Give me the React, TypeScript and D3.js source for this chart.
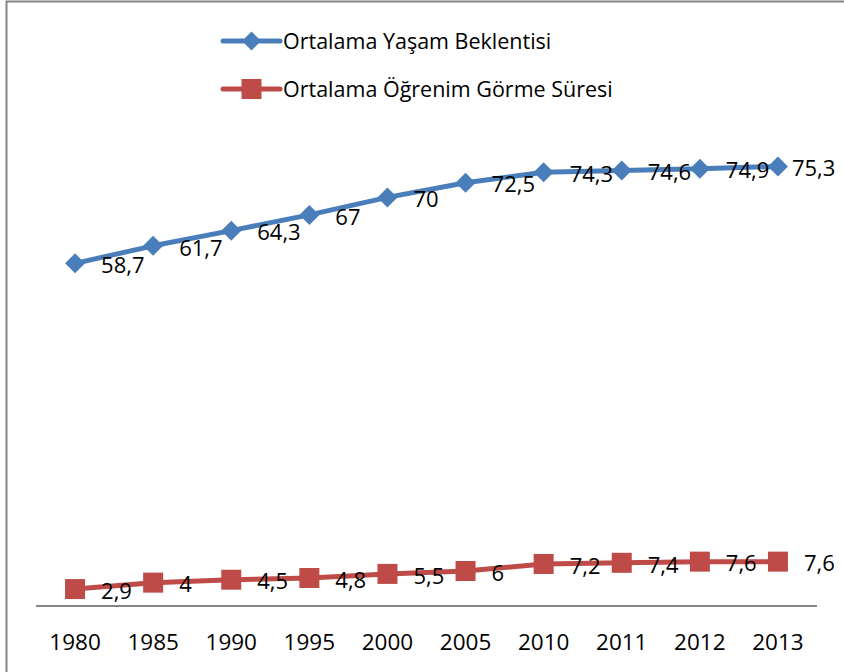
import React from "react";
import * as d3 from "d3";

const years = ["1980", "1985", "1990", "1995", "2000", "2005", "2010", "2011", "2012", "2013"];
const lifeExpectancy = [58.7, 61.7, 64.3, 67, 70, 72.5, 74.3, 74.6, 74.9, 75.3];
const schoolingYears = [2.9, 4, 4.5, 4.8, 5.5, 6, 7.2, 7.4, 7.6, 7.6];
const seriesNames = ["Ortalama Yaşam Beklentisi", "Ortalama Öğrenim Görme Süresi"];

const W = 844;
const H = 672;
const FONT = "'Open Sans', Lato, sans-serif";
const BLUE = "#4A7EBB";
const RED = "#BE4B48";

const fmt = (v: number) => String(v).replace(".", ",");

export default function App() {
  const x = d3.scaleBand<string>().domain(years).range([36, 817]);
  const y = d3.scaleLinear().domain([0, 80]).range([606, 139]);
  const cx = (d: string) => (x(d) as number) + x.bandwidth() / 2;
  const line = d3
    .line<[string, number]>()
    .x((d) => cx(d[0]))
    .y((d) => y(d[1]));

  const blue: [string, number][] = years.map((yr, i) => [yr, lifeExpectancy[i]]);
  const red: [string, number][] = years.map((yr, i) => [yr, schoolingYears[i]]);

  const diamond = (px: number, py: number, r: number) =>
    `M${px},${py - r}L${px + r},${py}L${px},${py + r}L${px - r},${py}Z`;

  const labelX = (i: number, series: number) =>
    series === 0 && i === years.length - 1 ? cx(years[i]) + 14 : cx(years[i]) + 26;

  return (
    <svg
      width={W}
      height={H}
      style={{ position: "absolute", left: 0, top: 0, background: "#fff" }}
      fontFamily={FONT}
    >
      <rect x={6.5} y={1.5} width={W + 10} height={H + 10} fill="#fff" stroke="#868686" strokeWidth={2} />

      {/* legend */}
      <g>
        <line x1={223} x2={280} y1={41} y2={41} stroke={BLUE} strokeWidth={5} strokeLinecap="round" />
        <path d={diamond(251.5, 41, 9.5)} fill={BLUE} />
        <text x={283} y={41} dy="0.35em" fontSize={21.5} fill="#000">{seriesNames[0]}</text>
        <line x1={223} x2={280} y1={89} y2={89} stroke={RED} strokeWidth={5} strokeLinecap="round" />
        <rect x={241.5} y={79} width={20} height={20} fill={RED} />
        <text x={283} y={89} dy="0.35em" fontSize={21.5} fill="#000">{seriesNames[1]}</text>
      </g>

      {/* axis */}
      <line x1={36} x2={817} y1={606} y2={606} stroke="#868686" strokeWidth={2} />
      {years.map((yr) => (
        <text key={yr} x={cx(yr)} y={642} dy="0.35em" textAnchor="middle" fontSize={22.5} fill="#000">
          {yr}
        </text>
      ))}

      {/* series */}
      <path d={line(blue) || ""} fill="none" stroke={BLUE} strokeWidth={5} strokeLinejoin="round" />
      {blue.map((d) => (
        <path key={"b" + d[0]} d={diamond(cx(d[0]), y(d[1]), 10)} fill={BLUE} />
      ))}
      <path d={line(red) || ""} fill="none" stroke={RED} strokeWidth={5} strokeLinejoin="round" />
      {red.map((d) => (
        <rect key={"r" + d[0]} x={cx(d[0]) - 10} y={y(d[1]) - 10} width={20} height={20} fill={RED} />
      ))}

      {/* labels */}
      {blue.map((d, i) => (
        <text key={"bl" + d[0]} x={labelX(i, 0)} y={y(d[1]) + 2} dy="0.35em" fontSize={22} fill="#000">
          {fmt(d[1])}
        </text>
      ))}
      {red.map((d, i) => (
        <text key={"rl" + d[0]} x={labelX(i, 1)} y={y(d[1]) + 2} dy="0.35em" fontSize={22} fill="#000">
          {fmt(d[1])}
        </text>
      ))}
    </svg>
  );
}
